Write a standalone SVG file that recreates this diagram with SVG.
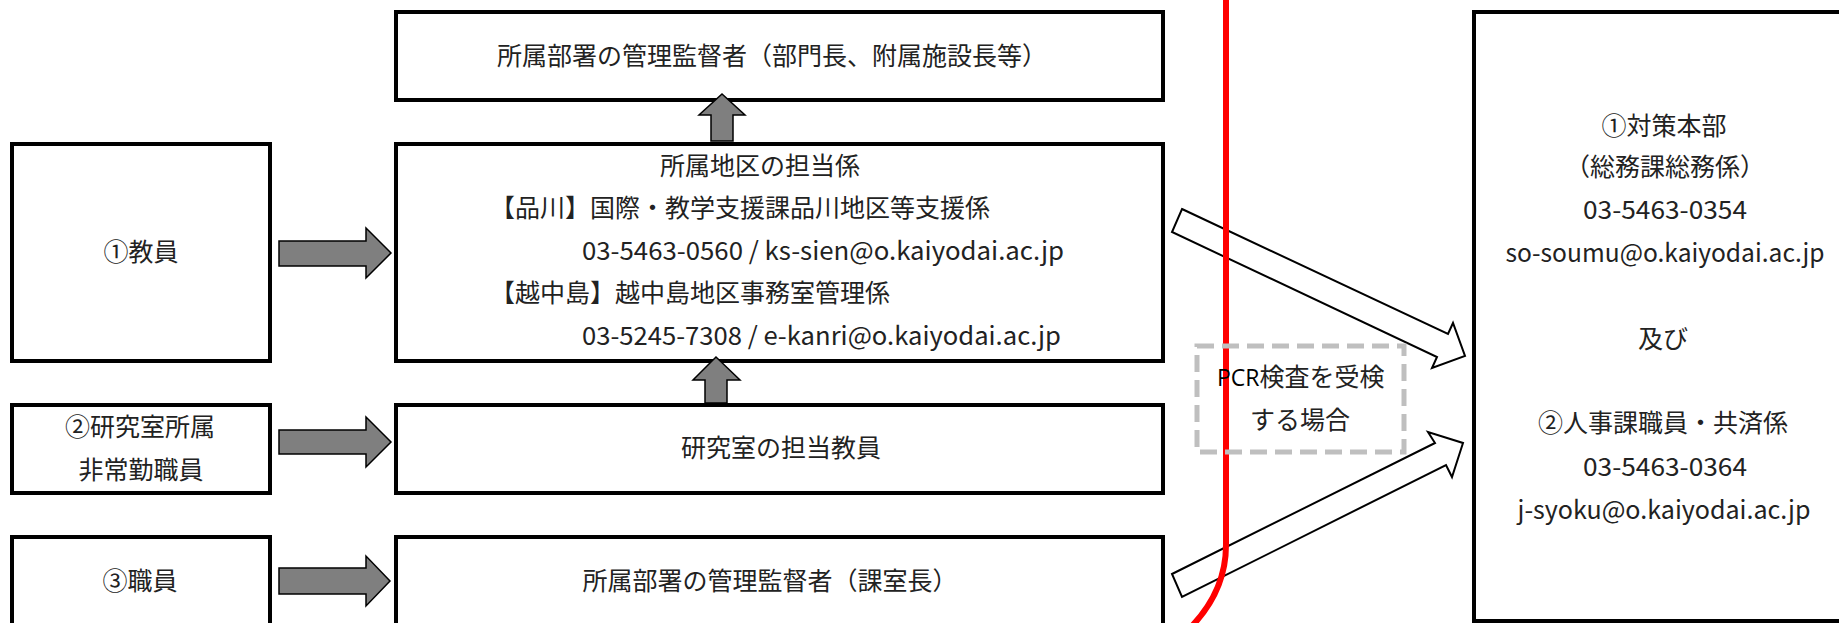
<svg xmlns="http://www.w3.org/2000/svg" width="1839" height="623" viewBox="0 0 1839 623">
<style>
.box{fill:#fff;stroke:#000;stroke-width:4}
.t{font-family:"Noto Sans CJK JP","Noto Sans",sans-serif;font-size:25px;fill:#222}
.c{text-anchor:middle}
.g{fill:#7f7f7f;stroke:#000;stroke-width:1.5;stroke-linejoin:miter}
.h{fill:#fff;stroke:#000;stroke-width:2;stroke-linejoin:miter}
.dash{fill:none;stroke:#bfbfbf;stroke-width:5;stroke-dasharray:17 8}
</style>
<rect width="1839" height="623" fill="#fff"/>

<g id="node-kyoin">
<rect class="box" x="12" y="144" width="258" height="217"/>
<text class="t c" x="141" y="261">①教員</text>
</g>
<g id="node-hijokin">
<rect class="box" x="12" y="405" width="258" height="88"/>
<text class="t c" x="140" y="436">②研究室所属</text>
<text class="t c" x="141" y="479">非常勤職員</text>
</g>
<g id="node-shokuin">
<rect class="box" x="12" y="537" width="258" height="96"/>
<text class="t c" x="140" y="590">③職員</text>
</g>

<g id="node-kanri-top">
<rect class="box" x="396" y="12" width="767" height="88"/>
<text class="t c" x="772" y="65">所属部署の管理監督者（部門長、附属施設長等）</text>
</g>
<g id="node-tanto">
<rect class="box" x="396" y="144" width="767" height="217"/>
<text class="t c" x="760" y="175">所属地区の担当係</text>
<text class="t" x="490" y="217">【品川】国際・教学支援課品川地区等支援係</text>
<text class="t" x="582" y="260" textLength="482" lengthAdjust="spacingAndGlyphs">03-5463-0560 / ks-sien@o.kaiyodai.ac.jp</text>
<text class="t" x="490" y="302">【越中島】越中島地区事務室管理係</text>
<text class="t" x="582" y="345" textLength="479" lengthAdjust="spacingAndGlyphs">03-5245-7308 / e-kanri@o.kaiyodai.ac.jp</text>
</g>
<g id="node-kenkyushitsu">
<rect class="box" x="396" y="405" width="767" height="88"/>
<text class="t c" x="781" y="457">研究室の担当教員</text>
</g>
<g id="node-kashitsucho">
<rect class="box" x="396" y="537" width="767" height="96"/>
<text class="t c" x="770" y="590">所属部署の管理監督者（課室長）</text>
</g>

<g id="node-honbu">
<rect class="box" x="1474" y="12" width="400" height="609"/>
<text class="t c" x="1664" y="135">①対策本部</text>
<text class="t c" x="1665" y="176">（総務課総務係）</text>
<text class="t c" x="1665" y="219" textLength="164" lengthAdjust="spacingAndGlyphs">03-5463-0354</text>
<text class="t c" x="1665" y="262" textLength="319" lengthAdjust="spacingAndGlyphs">so-soumu@o.kaiyodai.ac.jp</text>
<text class="t c" x="1663" y="348">及び</text>
<text class="t c" x="1663" y="432">②人事課職員・共済係</text>
<text class="t c" x="1665" y="476" textLength="164" lengthAdjust="spacingAndGlyphs">03-5463-0364</text>
<text class="t c" x="1664" y="519" textLength="293" lengthAdjust="spacingAndGlyphs">j-syoku@o.kaiyodai.ac.jp</text>
</g>

<g id="connectors">
<polygon class="g" points="279,241 366,241 366,228 391,253 366,278 366,266 279,266"/>
<polygon class="g" points="279,430 366,430 366,417 391,442 366,467 366,454 279,454"/>
<polygon class="g" points="279,568 366,568 366,556 390,581 366,606 366,594 279,594"/>
<polygon class="g" points="711,141 711,115 699,115 722,94 745,115 733,115 733,141"/>
<polygon class="g" points="705,403 705,380 693,380 716,357 740,380 727,380 727,403"/>
<polygon class="h" points="1182,209 1448,334 1453,323 1465,356 1432,368 1437,357 1172,232"/>
<polygon class="h" points="1172,574 1435,443 1428,432 1463,443 1452,477 1446,465 1182,597"/>
</g>

<g id="divider">
<path d="M1226,-2 V545 Q1226,590 1192,626" fill="none" stroke="#ff0000" stroke-width="6"/>
</g>

<g id="node-pcr">
<rect class="dash" x="1197" y="346" width="207" height="106"/>
<text class="t" x="1217" y="386"><tspan font-family="'Open Sans',sans-serif" fill="#000" font-size="23">PCR</tspan>検査を受検</text>
<text class="t c" x="1300" y="429">する場合</text>
</g>
</svg>
